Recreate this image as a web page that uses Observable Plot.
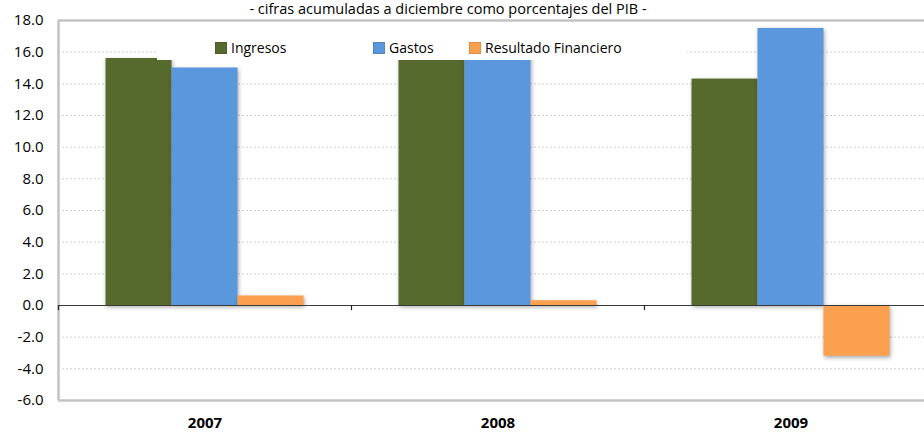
<!DOCTYPE html>
<html>
<head>
<meta charset="utf-8">
<script src="https://cdn.jsdelivr.net/npm/d3@7"></script>
<script src="https://cdn.jsdelivr.net/npm/@observablehq/plot@0.6"></script>
<style>
  html, body { margin: 0; padding: 0; background: #fff; overflow: hidden; }
  #wrap { position: relative; width: 924px; height: 434px; overflow: hidden; font-family: "Open Sans", sans-serif; }
  #subtitle { position: absolute; left: 0; top: 0; width: 896px; text-align: center; font-size: 14.5px; line-height: 17px; color: #000; white-space: nowrap; }
  #legend { position: absolute; left: 157px; top: 23px; width: 530px; height: 37px; background: #fff; }
  .item { position: absolute; top: 15px; display: flex; align-items: center; font-size: 14px; color: #000; white-space: nowrap; }
  .sw { width: 12px; height: 12px; margin-right: 4px; box-shadow: inset 0 0 2px rgba(0,0,0,0.35); }
  #chart svg { display: block; }
</style>
</head>
<body>
<div id="wrap">
  <div id="chart"></div>
  <div id="subtitle"></div>
  <div id="legend"></div>
</div>
<script>
// ---- data ----
const years = ["2007", "2008", "2009"];
const series = ["Ingresos", "Gastos", "Resultado Financiero"];
const ingresos = [15.6, 16.9, 14.3];
const gastos = [15.0, 16.6, 17.5];
const resultado = [0.6, 0.3, -3.2];
const yTicks = [-6, -4, -2, 0, 2, 4, 6, 8, 10, 12, 14, 16, 18];
const colors = ["#566a2e", "#5a97dd", "#fba04e"];
const subtitle = "- cifras acumuladas a diciembre como porcentajes del PIB -";

// ---- layout constants ----
const legendLeft = [58, 216, 312];

const values = [ingresos, gastos, resultado];
const data = [];
years.forEach((y, i) => series.forEach((s, j) => data.push({year: y, yi: i, serie: s, value: values[j][i]})));

const inner = d3.scaleBand(series, [0, 1]).paddingInner(0).paddingOuter(0.72);

const grid = yTicks.filter(t => t !== 0 && t !== 18 && t !== -6);

const chart = Plot.plot({
  width: 924,
  height: 434,
  marginTop: 20,
  marginBottom: 34,
  marginLeft: 58,
  marginRight: 0,
  style: {fontFamily: "Open Sans, sans-serif", fontSize: "15px", color: "#000", background: "#fff"},
  x: {domain: [0, years.length], range: [58, 937], axis: null},
  y: {domain: [-6, 18], ticks: yTicks, tickFormat: d => d.toFixed(1), tickSize: 0, tickPadding: 15, label: null},
  color: {domain: series, range: colors},
  marks: [
    Plot.ruleY(grid, {stroke: "#cfcfcf", strokeDasharray: "2,2", strokeWidth: 1}),
    Plot.ruleY([18, -6], {stroke: "#c3c3c3", strokeWidth: 2.5}),
    Plot.ruleX([0], {stroke: "#c3c3c3", strokeWidth: 2.5}),
    Plot.rect(data, {
      x1: d => d.yi + inner(d.serie),
      x2: d => d.yi + inner(d.serie) + inner.bandwidth(),
      y1: 0,
      y2: "value",
      fill: "serie"
    }),
    Plot.ruleY([0], {stroke: "#3a3a3a", strokeWidth: 1.2}),
    Plot.ruleX(d3.range(years.length + 1), {y1: 0, y2: -0.33, stroke: "#222", strokeWidth: 1.2}),
    Plot.text(years, {x: (d, i) => i + 0.5, frameAnchor: "bottom", dy: 27, text: d => d, fontWeight: "bold", fontSize: 15})
  ]
});
document.getElementById("chart").appendChild(chart);

// subtle shadow like the original 3D bars
d3.select(chart).selectAll("g[aria-label='rect'] rect")
  .style("filter", "drop-shadow(1px 2px 2px rgba(0,0,0,0.35))");

document.getElementById("subtitle").textContent = subtitle;

const legend = d3.select("#legend");
series.forEach((s, i) => {
  const it = legend.append("div").attr("class", "item").style("left", legendLeft[i] + "px");
  it.append("div").attr("class", "sw").style("background", colors[i]);
  it.append("span").text(s);
});
</script>
</body>
</html>
